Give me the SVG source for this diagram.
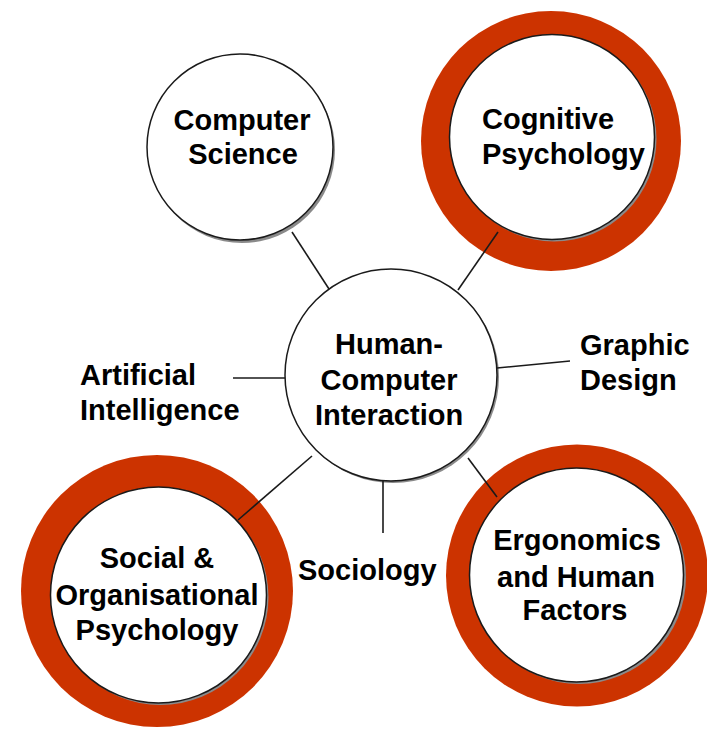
<svg xmlns="http://www.w3.org/2000/svg" width="707" height="729" viewBox="0 0 707 729">
<style>
.bg{fill:#ffffff}
.ring{fill:#cc3300}
.shadow{fill:#8a8a8a}
.disc{fill:#ffffff;stroke:#1a1a1a;stroke-width:1.5}
.lbl{font-family:"Liberation Sans",Arial,sans-serif;font-weight:bold;font-size:29px;fill:#000000}
.c{text-anchor:middle}
.conn line{stroke:#1a1a1a;stroke-width:1.6}
</style>
<rect class="bg" x="0" y="0" width="707" height="729"/>
<g id="computer-science">
<circle class="shadow" cx="242" cy="150" r="93"/>
<circle class="disc" cx="240" cy="147" r="93"/>
<text class="lbl c" x="242" y="130">Computer</text>
<text class="lbl c" x="243" y="164">Science</text>
</g>
<g id="cognitive-psychology">
<circle class="ring" cx="551" cy="141" r="130"/>
<circle class="shadow" cx="554" cy="139" r="102.5"/>
<circle class="disc" cx="552" cy="137" r="102.5"/>
<text class="lbl" x="482" y="129">Cognitive</text>
<text class="lbl" x="482" y="164">Psychology</text>
</g>
<g id="hci">
<circle class="shadow" cx="393" cy="377" r="106"/>
<circle class="disc" cx="391" cy="375" r="106"/>
<text class="lbl c" x="389" y="354">Human-</text>
<text class="lbl c" x="389" y="390">Computer</text>
<text class="lbl c" x="389" y="425">Interaction</text>
</g>
<g id="artificial-intelligence">
<text class="lbl" x="80" y="385">Artificial</text>
<text class="lbl" x="80" y="420">Intelligence</text>
</g>
<g id="graphic-design">
<text class="lbl" x="580" y="355">Graphic</text>
<text class="lbl" x="580" y="390">Design</text>
</g>
<g id="social-organisational-psychology">
<circle class="ring" cx="157" cy="591" r="136"/>
<circle class="shadow" cx="160.5" cy="597" r="108"/>
<circle class="disc" cx="158.5" cy="595" r="108"/>
<text class="lbl c" x="157" y="568">Social &amp;</text>
<text class="lbl c" x="157" y="605">Organisational</text>
<text class="lbl c" x="157" y="640">Psychology</text>
</g>
<g id="sociology">
<text class="lbl" x="298" y="580">Sociology</text>
</g>
<g id="ergonomics-human-factors">
<circle class="ring" cx="577" cy="575.5" r="131"/>
<circle class="shadow" cx="579" cy="577" r="107"/>
<circle class="disc" cx="576.5" cy="575" r="107"/>
<text class="lbl c" x="577" y="550">Ergonomics</text>
<text class="lbl c" x="576" y="587">and Human</text>
<text class="lbl c" x="575" y="620">Factors</text>
</g>
<g id="connectors" class="conn">
<line x1="292" y1="232" x2="329" y2="289"/>
<line x1="498" y1="232" x2="458" y2="290"/>
<line x1="233" y1="378" x2="285" y2="378"/>
<line x1="497" y1="368" x2="570" y2="361"/>
<line x1="238" y1="520" x2="312" y2="456"/>
<line x1="383" y1="481" x2="383" y2="533"/>
<line x1="468" y1="458" x2="497" y2="497"/>
</g>
</svg>
